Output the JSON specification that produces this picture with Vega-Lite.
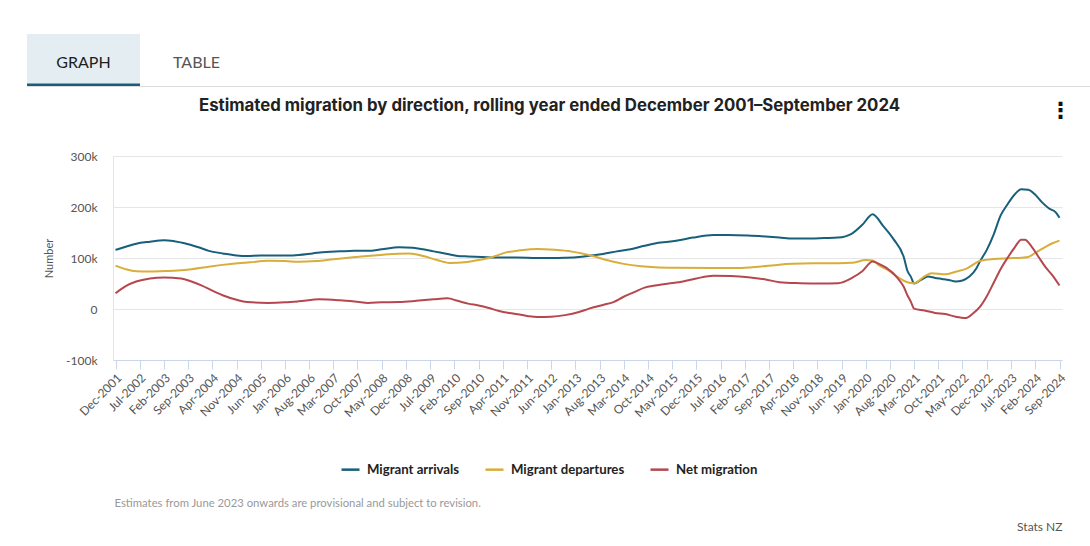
{
"$schema":"https://vega.github.io/schema/vega-lite/v6.json",
"width":949,"height":204,
"autosize":{"type":"none"},
"padding":{"left":113,"top":156,"right":28,"bottom":186},
"background":"white",
"config":{"font":"Lato","view":{"stroke":null}},
"title":{"text":"Estimated migration by direction, rolling year ended December 2001–September 2024","font":"Inter","fontSize":16.8,"fontWeight":"bold","color":"#222","anchor":"middle","offset":0,"baseline":"middle","dy":89,"dx":-38},
"resolve":{"scale":{"x":"independent","y":"independent"},"axis":{"x":"independent","y":"independent"}},
"layer":[
{
"data":{"values":[
{"date":"2001-12-01","series":"Migrant arrivals","value":116000},
{"date":"2002-03-01","series":"Migrant arrivals","value":122000},
{"date":"2002-06-01","series":"Migrant arrivals","value":128000},
{"date":"2002-10-01","series":"Migrant arrivals","value":132000},
{"date":"2003-02-01","series":"Migrant arrivals","value":135000},
{"date":"2003-05-01","series":"Migrant arrivals","value":133000},
{"date":"2003-08-01","series":"Migrant arrivals","value":129000},
{"date":"2003-12-01","series":"Migrant arrivals","value":121000},
{"date":"2004-03-01","series":"Migrant arrivals","value":114000},
{"date":"2004-07-01","series":"Migrant arrivals","value":109000},
{"date":"2004-11-01","series":"Migrant arrivals","value":105000},
{"date":"2005-02-01","series":"Migrant arrivals","value":104000},
{"date":"2005-06-01","series":"Migrant arrivals","value":105000},
{"date":"2005-10-01","series":"Migrant arrivals","value":105000},
{"date":"2006-02-01","series":"Migrant arrivals","value":105000},
{"date":"2006-05-01","series":"Migrant arrivals","value":106000},
{"date":"2006-09-01","series":"Migrant arrivals","value":109000},
{"date":"2007-01-01","series":"Migrant arrivals","value":112000},
{"date":"2007-05-01","series":"Migrant arrivals","value":113000},
{"date":"2007-09-01","series":"Migrant arrivals","value":114000},
{"date":"2008-01-01","series":"Migrant arrivals","value":114000},
{"date":"2008-05-01","series":"Migrant arrivals","value":117000},
{"date":"2008-10-01","series":"Migrant arrivals","value":121000},
{"date":"2009-02-01","series":"Migrant arrivals","value":120000},
{"date":"2009-05-01","series":"Migrant arrivals","value":117000},
{"date":"2009-08-01","series":"Migrant arrivals","value":113000},
{"date":"2009-12-01","series":"Migrant arrivals","value":108000},
{"date":"2010-03-01","series":"Migrant arrivals","value":104000},
{"date":"2010-06-01","series":"Migrant arrivals","value":103000},
{"date":"2010-10-01","series":"Migrant arrivals","value":102000},
{"date":"2011-03-01","series":"Migrant arrivals","value":101000},
{"date":"2011-08-01","series":"Migrant arrivals","value":101000},
{"date":"2012-02-01","series":"Migrant arrivals","value":100000},
{"date":"2012-06-01","series":"Migrant arrivals","value":100000},
{"date":"2012-10-01","series":"Migrant arrivals","value":100500},
{"date":"2013-02-01","series":"Migrant arrivals","value":102000},
{"date":"2013-05-01","series":"Migrant arrivals","value":104500},
{"date":"2013-09-01","series":"Migrant arrivals","value":108000},
{"date":"2014-01-01","series":"Migrant arrivals","value":113000},
{"date":"2014-05-01","series":"Migrant arrivals","value":117000},
{"date":"2014-09-01","series":"Migrant arrivals","value":124000},
{"date":"2014-12-01","series":"Migrant arrivals","value":128500},
{"date":"2015-04-01","series":"Migrant arrivals","value":132000},
{"date":"2015-07-01","series":"Migrant arrivals","value":135000},
{"date":"2015-11-01","series":"Migrant arrivals","value":140000},
{"date":"2016-05-01","series":"Migrant arrivals","value":145000},
{"date":"2016-09-01","series":"Migrant arrivals","value":145000},
{"date":"2017-03-01","series":"Migrant arrivals","value":144000},
{"date":"2017-08-01","series":"Migrant arrivals","value":142000},
{"date":"2017-12-01","series":"Migrant arrivals","value":140000},
{"date":"2018-04-01","series":"Migrant arrivals","value":138000},
{"date":"2018-09-01","series":"Migrant arrivals","value":138000},
{"date":"2019-01-01","series":"Migrant arrivals","value":139000},
{"date":"2019-05-01","series":"Migrant arrivals","value":140000},
{"date":"2019-09-01","series":"Migrant arrivals","value":148000},
{"date":"2019-12-01","series":"Migrant arrivals","value":165000},
{"date":"2020-03-01","series":"Migrant arrivals","value":186000},
{"date":"2020-06-01","series":"Migrant arrivals","value":163000},
{"date":"2020-09-01","series":"Migrant arrivals","value":137000},
{"date":"2020-12-01","series":"Migrant arrivals","value":101000},
{"date":"2021-01-01","series":"Migrant arrivals","value":75000},
{"date":"2021-02-01","series":"Migrant arrivals","value":63000},
{"date":"2021-03-01","series":"Migrant arrivals","value":50000},
{"date":"2021-05-01","series":"Migrant arrivals","value":57000},
{"date":"2021-07-01","series":"Migrant arrivals","value":63500},
{"date":"2021-09-01","series":"Migrant arrivals","value":61000},
{"date":"2021-11-01","series":"Migrant arrivals","value":59000},
{"date":"2022-01-01","series":"Migrant arrivals","value":57000},
{"date":"2022-03-01","series":"Migrant arrivals","value":54000},
{"date":"2022-05-01","series":"Migrant arrivals","value":56000},
{"date":"2022-07-01","series":"Migrant arrivals","value":63500},
{"date":"2022-09-01","series":"Migrant arrivals","value":80000},
{"date":"2022-10-01","series":"Migrant arrivals","value":93000},
{"date":"2022-12-01","series":"Migrant arrivals","value":116000},
{"date":"2023-02-01","series":"Migrant arrivals","value":147000},
{"date":"2023-04-01","series":"Migrant arrivals","value":183000},
{"date":"2023-06-01","series":"Migrant arrivals","value":205000},
{"date":"2023-08-01","series":"Migrant arrivals","value":224000},
{"date":"2023-10-01","series":"Migrant arrivals","value":235000},
{"date":"2023-12-01","series":"Migrant arrivals","value":234000},
{"date":"2024-02-01","series":"Migrant arrivals","value":224000},
{"date":"2024-04-01","series":"Migrant arrivals","value":209000},
{"date":"2024-06-01","series":"Migrant arrivals","value":197000},
{"date":"2024-08-01","series":"Migrant arrivals","value":189000},
{"date":"2024-09-01","series":"Migrant arrivals","value":179000},
{"date":"2001-12-01","series":"Migrant departures","value":85000},
{"date":"2002-03-01","series":"Migrant departures","value":78000},
{"date":"2002-06-01","series":"Migrant departures","value":74000},
{"date":"2002-10-01","series":"Migrant departures","value":73500},
{"date":"2003-03-01","series":"Migrant departures","value":74500},
{"date":"2003-06-01","series":"Migrant departures","value":75500},
{"date":"2003-10-01","series":"Migrant departures","value":78000},
{"date":"2004-03-01","series":"Migrant departures","value":83000},
{"date":"2004-10-01","series":"Migrant departures","value":88500},
{"date":"2005-03-01","series":"Migrant departures","value":91500},
{"date":"2005-08-01","series":"Migrant departures","value":94500},
{"date":"2006-01-01","series":"Migrant departures","value":94000},
{"date":"2006-05-01","series":"Migrant departures","value":92500},
{"date":"2006-10-01","series":"Migrant departures","value":94000},
{"date":"2007-03-01","series":"Migrant departures","value":97500},
{"date":"2007-08-01","series":"Migrant departures","value":101000},
{"date":"2008-01-01","series":"Migrant departures","value":104000},
{"date":"2008-06-01","series":"Migrant departures","value":107000},
{"date":"2009-01-01","series":"Migrant departures","value":109000},
{"date":"2009-05-01","series":"Migrant departures","value":104000},
{"date":"2009-09-01","series":"Migrant departures","value":96000},
{"date":"2010-01-01","series":"Migrant departures","value":90000},
{"date":"2010-05-01","series":"Migrant departures","value":91500},
{"date":"2010-09-01","series":"Migrant departures","value":96000},
{"date":"2011-01-01","series":"Migrant departures","value":102000},
{"date":"2011-05-01","series":"Migrant departures","value":111000},
{"date":"2011-09-01","series":"Migrant departures","value":115000},
{"date":"2012-02-01","series":"Migrant departures","value":117700},
{"date":"2012-07-01","series":"Migrant departures","value":116000},
{"date":"2012-12-01","series":"Migrant departures","value":112500},
{"date":"2013-06-01","series":"Migrant departures","value":104000},
{"date":"2013-10-01","series":"Migrant departures","value":96000},
{"date":"2014-03-01","series":"Migrant departures","value":88500},
{"date":"2014-08-01","series":"Migrant departures","value":84000},
{"date":"2014-12-01","series":"Migrant departures","value":82000},
{"date":"2015-06-01","series":"Migrant departures","value":81000},
{"date":"2016-05-01","series":"Migrant departures","value":80600},
{"date":"2016-12-01","series":"Migrant departures","value":80600},
{"date":"2017-06-01","series":"Migrant departures","value":83000},
{"date":"2017-12-01","series":"Migrant departures","value":87000},
{"date":"2018-04-01","series":"Migrant departures","value":88500},
{"date":"2018-10-01","series":"Migrant departures","value":89500},
{"date":"2019-05-01","series":"Migrant departures","value":89700},
{"date":"2019-09-01","series":"Migrant departures","value":90500},
{"date":"2020-01-01","series":"Migrant departures","value":96000},
{"date":"2020-03-01","series":"Migrant departures","value":95000},
{"date":"2020-05-01","series":"Migrant departures","value":85000},
{"date":"2020-07-01","series":"Migrant departures","value":78000},
{"date":"2020-09-01","series":"Migrant departures","value":69000},
{"date":"2020-11-01","series":"Migrant departures","value":59000},
{"date":"2021-01-01","series":"Migrant departures","value":52600},
{"date":"2021-03-01","series":"Migrant departures","value":50700},
{"date":"2021-06-01","series":"Migrant departures","value":64000},
{"date":"2021-08-01","series":"Migrant departures","value":70000},
{"date":"2021-12-01","series":"Migrant departures","value":68000},
{"date":"2022-03-01","series":"Migrant departures","value":73000},
{"date":"2022-06-01","series":"Migrant departures","value":78700},
{"date":"2022-10-01","series":"Migrant departures","value":94000},
{"date":"2023-02-01","series":"Migrant departures","value":98000},
{"date":"2023-06-01","series":"Migrant departures","value":99500},
{"date":"2023-10-01","series":"Migrant departures","value":100500},
{"date":"2023-12-01","series":"Migrant departures","value":102000},
{"date":"2024-02-01","series":"Migrant departures","value":110000},
{"date":"2024-05-01","series":"Migrant departures","value":122000},
{"date":"2024-07-01","series":"Migrant departures","value":129000},
{"date":"2024-09-01","series":"Migrant departures","value":134000},
{"date":"2001-12-01","series":"Net migration","value":31000},
{"date":"2002-03-01","series":"Net migration","value":45000},
{"date":"2002-06-01","series":"Net migration","value":54000},
{"date":"2002-10-01","series":"Net migration","value":60000},
{"date":"2003-02-01","series":"Net migration","value":62000},
{"date":"2003-07-01","series":"Net migration","value":60000},
{"date":"2003-10-01","series":"Net migration","value":54000},
{"date":"2004-01-01","series":"Net migration","value":46000},
{"date":"2004-04-01","series":"Net migration","value":36000},
{"date":"2004-07-01","series":"Net migration","value":27000},
{"date":"2004-11-01","series":"Net migration","value":18000},
{"date":"2005-02-01","series":"Net migration","value":13600},
{"date":"2005-08-01","series":"Net migration","value":12000},
{"date":"2006-01-01","series":"Net migration","value":13000},
{"date":"2006-05-01","series":"Net migration","value":15000},
{"date":"2006-11-01","series":"Net migration","value":19000},
{"date":"2007-05-01","series":"Net migration","value":17000},
{"date":"2007-10-01","series":"Net migration","value":14000},
{"date":"2008-01-01","series":"Net migration","value":12000},
{"date":"2008-05-01","series":"Net migration","value":13000},
{"date":"2008-10-01","series":"Net migration","value":13600},
{"date":"2009-03-01","series":"Net migration","value":16000},
{"date":"2009-08-01","series":"Net migration","value":19000},
{"date":"2009-12-01","series":"Net migration","value":21000},
{"date":"2010-03-01","series":"Net migration","value":16000},
{"date":"2010-06-01","series":"Net migration","value":10500},
{"date":"2010-09-01","series":"Net migration","value":7000},
{"date":"2010-12-01","series":"Net migration","value":2000},
{"date":"2011-03-01","series":"Net migration","value":-4000},
{"date":"2011-07-01","series":"Net migration","value":-9000},
{"date":"2011-11-01","series":"Net migration","value":-13500},
{"date":"2012-02-01","series":"Net migration","value":-15600},
{"date":"2012-06-01","series":"Net migration","value":-15000},
{"date":"2012-10-01","series":"Net migration","value":-12000},
{"date":"2013-02-01","series":"Net migration","value":-6000},
{"date":"2013-05-01","series":"Net migration","value":700},
{"date":"2013-09-01","series":"Net migration","value":8000},
{"date":"2013-12-01","series":"Net migration","value":13600},
{"date":"2014-03-01","series":"Net migration","value":24000},
{"date":"2014-06-01","series":"Net migration","value":33000},
{"date":"2014-09-01","series":"Net migration","value":42000},
{"date":"2014-12-01","series":"Net migration","value":46000},
{"date":"2015-04-01","series":"Net migration","value":50000},
{"date":"2015-07-01","series":"Net migration","value":52600},
{"date":"2015-12-01","series":"Net migration","value":60000},
{"date":"2016-05-01","series":"Net migration","value":65000},
{"date":"2016-10-01","series":"Net migration","value":64500},
{"date":"2017-03-01","series":"Net migration","value":62400},
{"date":"2017-08-01","series":"Net migration","value":58000},
{"date":"2017-12-01","series":"Net migration","value":52600},
{"date":"2018-06-01","series":"Net migration","value":50700},
{"date":"2018-12-01","series":"Net migration","value":50000},
{"date":"2019-05-01","series":"Net migration","value":50700},
{"date":"2019-09-01","series":"Net migration","value":61000},
{"date":"2019-12-01","series":"Net migration","value":74000},
{"date":"2020-03-01","series":"Net migration","value":93000},
{"date":"2020-05-01","series":"Net migration","value":88000},
{"date":"2020-07-01","series":"Net migration","value":80600},
{"date":"2020-10-01","series":"Net migration","value":62000},
{"date":"2020-12-01","series":"Net migration","value":43000},
{"date":"2021-01-01","series":"Net migration","value":27000},
{"date":"2021-02-01","series":"Net migration","value":14000},
{"date":"2021-03-01","series":"Net migration","value":700},
{"date":"2021-06-01","series":"Net migration","value":-3000},
{"date":"2021-09-01","series":"Net migration","value":-7700},
{"date":"2021-12-01","series":"Net migration","value":-10000},
{"date":"2022-03-01","series":"Net migration","value":-15000},
{"date":"2022-06-01","series":"Net migration","value":-17500},
{"date":"2022-08-01","series":"Net migration","value":-9000},
{"date":"2022-10-01","series":"Net migration","value":4000},
{"date":"2022-12-01","series":"Net migration","value":25000},
{"date":"2023-02-01","series":"Net migration","value":52000},
{"date":"2023-04-01","series":"Net migration","value":78000},
{"date":"2023-06-01","series":"Net migration","value":100000},
{"date":"2023-08-01","series":"Net migration","value":120000},
{"date":"2023-10-01","series":"Net migration","value":136000},
{"date":"2023-11-01","series":"Net migration","value":136000},
{"date":"2024-01-01","series":"Net migration","value":122000},
{"date":"2024-03-01","series":"Net migration","value":102000},
{"date":"2024-05-01","series":"Net migration","value":82000},
{"date":"2024-07-01","series":"Net migration","value":66000},
{"date":"2024-09-01","series":"Net migration","value":46000}
]},
"mark":{"type":"line","strokeWidth":2,"interpolate":"monotone"},
"encoding":{
"x":{"field":"date","type":"temporal",
"scale":{"type":"utc","domain":[{"year":2001,"month":12,"date":1,"utc":true},{"year":2024,"month":9,"date":1,"utc":true}],"padding":2.5},
"axis":{"orient":"bottom","values":[
{"year":2001,"month":12,"date":1,"utc":true},{"year":2002,"month":7,"date":1,"utc":true},{"year":2003,"month":2,"date":1,"utc":true},{"year":2003,"month":9,"date":1,"utc":true},
{"year":2004,"month":4,"date":1,"utc":true},{"year":2004,"month":11,"date":1,"utc":true},{"year":2005,"month":6,"date":1,"utc":true},{"year":2006,"month":1,"date":1,"utc":true},
{"year":2006,"month":8,"date":1,"utc":true},{"year":2007,"month":3,"date":1,"utc":true},{"year":2007,"month":10,"date":1,"utc":true},{"year":2008,"month":5,"date":1,"utc":true},
{"year":2008,"month":12,"date":1,"utc":true},{"year":2009,"month":7,"date":1,"utc":true},{"year":2010,"month":2,"date":1,"utc":true},{"year":2010,"month":9,"date":1,"utc":true},
{"year":2011,"month":4,"date":1,"utc":true},{"year":2011,"month":11,"date":1,"utc":true},{"year":2012,"month":6,"date":1,"utc":true},{"year":2013,"month":1,"date":1,"utc":true},
{"year":2013,"month":8,"date":1,"utc":true},{"year":2014,"month":3,"date":1,"utc":true},{"year":2014,"month":10,"date":1,"utc":true},{"year":2015,"month":5,"date":1,"utc":true},
{"year":2015,"month":12,"date":1,"utc":true},{"year":2016,"month":7,"date":1,"utc":true},{"year":2017,"month":2,"date":1,"utc":true},{"year":2017,"month":9,"date":1,"utc":true},
{"year":2018,"month":4,"date":1,"utc":true},{"year":2018,"month":11,"date":1,"utc":true},{"year":2019,"month":6,"date":1,"utc":true},{"year":2020,"month":1,"date":1,"utc":true},
{"year":2020,"month":8,"date":1,"utc":true},{"year":2021,"month":3,"date":1,"utc":true},{"year":2021,"month":10,"date":1,"utc":true},{"year":2022,"month":5,"date":1,"utc":true},
{"year":2022,"month":12,"date":1,"utc":true},{"year":2023,"month":7,"date":1,"utc":true},{"year":2024,"month":2,"date":1,"utc":true},{"year":2024,"month":9,"date":1,"utc":true}],
"format":"%b-%Y","labelAngle":-45,"labelAlign":"right","labelBaseline":"top","labelFontSize":12,"labelColor":"#555","labelPadding":3,"labelOverlap":false,"labelFlush":false,"labelBound":false,
"tickColor":"#ccd6eb","tickSize":9,"domainColor":"#ccd6eb","grid":false,
"title":"Estimates from June 2023 onwards are provisional and subject to revision.","titleX":1,"titleY":143,"titleAlign":"left","titleAnchor":"start","titleBaseline":"middle","titleAngle":0,"titleFontSize":11.3,"titleFontWeight":"normal","titleColor":"#999"}},
"y":{"field":"value","type":"quantitative","scale":{"domain":[-100000,300000],"nice":false,"zero":false},
"axis":{"orient":"left","values":[-100000,0,100000,200000,300000],"labelExpr":"datum.value == 0 ? '0' : (datum.value/1000) + 'k'","labelFontSize":12,"labelColor":"#555","labelPadding":16,"ticks":false,"domain":true,"domainColor":"#e0e5ec","gridColor":"#e6e6e6",
"title":"Number","titleX":-64,"titleY":102,"titleAngle":-90,"titleAlign":"center","titleBaseline":"middle","titleFontSize":11,"titleFontWeight":"normal","titleColor":"#555"}},
"color":{"field":"series","type":"nominal","scale":{"domain":["Migrant arrivals","Migrant departures","Net migration"],"range":["#175f7a","#d9ad3a","#b6474f"]},
"legend":{"orient":"none","legendX":227,"legendY":303,"direction":"horizontal","title":null,"symbolType":"stroke","symbolStrokeWidth":2.5,"symbolSize":324,"labelFontSize":13.2,"labelFontWeight":"bold","labelColor":"#222","columnPadding":20,"labelOffset":6}}
}
},
{
"data":{"values":[{"tab":"GRAPH","active":1},{"tab":"TABLE","active":0}]},
"mark":{"type":"rect","color":"#e4eef2"},
"encoding":{
"x":{"field":"tab","type":"nominal","sort":null,"scale":{"type":"band","domain":["GRAPH","TABLE","_1","_2","_3","_4","_5","_6"],"range":[-86,977],"paddingInner":0,"paddingOuter":0.70354,"align":0},
"axis":{"orient":"top","offset":70,"ticks":false,"domainColor":"#dcdcdc","domainWidth":1,"labelAngle":0,"labelFontSize":16,"labelPadding":19,"labelBaseline":"alphabetic","labelExpr":"datum.value == 'GRAPH' || datum.value == 'TABLE' ? datum.value : ''","labelColor":{"condition":{"test":"datum.value == 'GRAPH'","value":"#1e1e1e"},"value":"#555"},"title":null,"grid":false}},
"y":{"field":"active","type":"quantitative","scale":{"domain":[0,1],"range":[-70,-122],"nice":false,"zero":false},
"axis":{"orient":"right","domain":false,"ticks":false,"labels":false,"grid":false,"title":"⋮","titleX":-2,"titleY":-46,"titleAngle":0,"titleAlign":"center","titleBaseline":"middle","titleFontSize":22,"titleFontWeight":"bold","titleColor":"#111","titleFont":"DejaVu Sans"}},
"y2":{"datum":0}
}
},
{
"data":{"values":[{"tab":"GRAPH","active":1},{"tab":"TABLE","active":0}]},
"transform":[{"filter":"datum.active == 1"}],
"mark":{"type":"rect","color":"#175f7a"},
"encoding":{
"x":{"field":"tab","type":"nominal","sort":null,"scale":{"type":"band","domain":["GRAPH","TABLE","_1","_2","_3","_4","_5","_6"],"range":[-86,977],"paddingInner":0,"paddingOuter":0.70354,"align":0},"axis":null},
"y":{"datum":0,"type":"quantitative","scale":{"domain":[0,1],"range":[-70,-122],"nice":false,"zero":false},
"axis":{"orient":"right","domain":false,"ticks":false,"labels":false,"grid":false,"title":"Stats NZ","titleX":0,"titleY":370,"titleAngle":0,"titleAlign":"right","titleBaseline":"middle","titleFontSize":12,"titleFontWeight":"normal","titleColor":"#555"}},
"y2":{"datum":0.05}
}
}
]
}
